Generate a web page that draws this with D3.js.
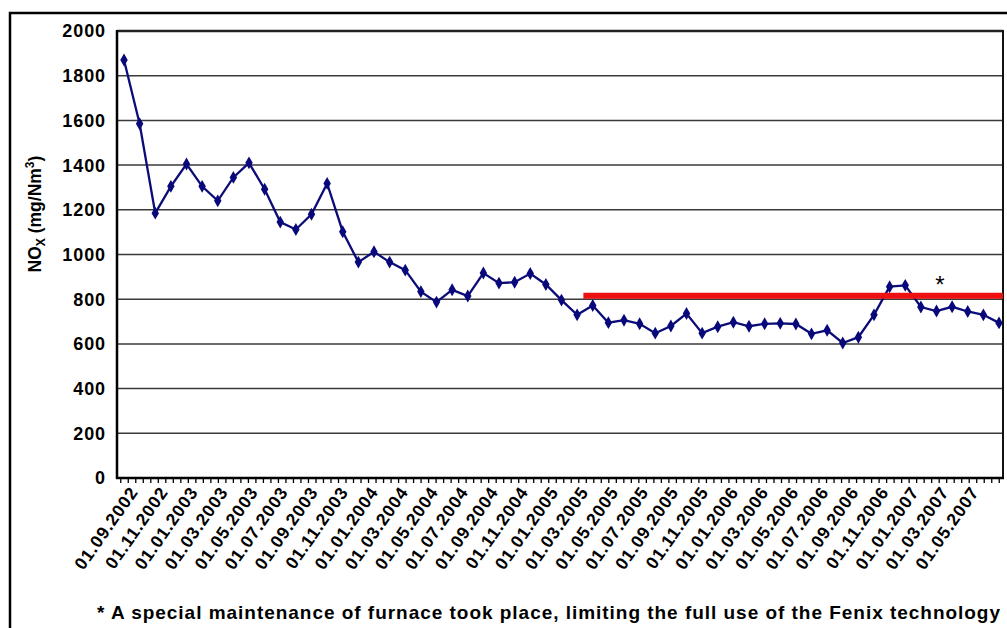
<!DOCTYPE html>
<html>
<head>
<meta charset="utf-8">
<script src="https://cdn.jsdelivr.net/npm/d3@7"></script>
<style>
    body { margin: 0; background: #fff; }
    svg { display: block; font-family: 'Liberation Sans', Arial, sans-serif; }
</style>
</head>
<body>
<svg id="chart" width="1007" height="628"></svg>
<script>
// monthly NOx means, 01.09.2002 .. 01.05.2007
var noxValues = [
    1870, 1585, 1185, 1305, 1405, 1305, 1240, 1345, 1410, 1292,
    1145, 1112, 1180, 1318, 1102, 966, 1012, 966, 930, 834,
    787, 842, 814, 917, 872, 876, 915, 866, 796, 730,
    772, 695, 706, 690, 648, 680, 736, 648, 677, 697,
    679, 690, 692, 689, 645, 661, 604, 630, 730, 856,
    862, 765, 747, 766, 745, 730, 694
];

var tickLabels = [
    '01.09.2002', '01.11.2002', '01.01.2003', '01.03.2003', '01.05.2003', '01.07.2003',
    '01.09.2003', '01.11.2003', '01.01.2004', '01.03.2004', '01.05.2004', '01.07.2004',
    '01.09.2004', '01.11.2004', '01.01.2005', '01.03.2005', '01.05.2005', '01.07.2005',
    '01.09.2005', '01.11.2005', '01.01.2006', '01.03.2006', '01.05.2006', '01.07.2006',
    '01.09.2006', '01.11.2006', '01.01.2007', '01.03.2007', '01.05.2007'
];

var yTicks = [0, 200, 400, 600, 800, 1000, 1200, 1400, 1600, 1800, 2000];

// limit line (red) : value and start, in month index
var limitValue = 815;
var limitStart = 29.4;

var footnote = '* A special maintenance of furnace took place, limiting the full use of the Fenix technology';

var pLeft = 117, pRight = 1003, pTop = 31, pBottom = 478;
var nTicks = 118;

var svg = d3.select('#chart');

svg.append('rect').attr('width', 1007).attr('height', 628).attr('fill', '#fff');

// outer frame
svg.append('path')
    .attr('d', 'M10,628V13H1007')
    .attr('fill', 'none').attr('stroke', '#000').attr('stroke-width', 2.5);

var y = d3.scaleLinear().domain([0, 2000]).range([pBottom, pTop]);
var x = d3.scaleLinear().domain([0, noxValues.length - 1]).range([124, 999]);
var xTick = d3.scaleLinear().domain([-0.5, nTicks - 0.5]).range([pLeft, pRight]);

// grid
svg.append('g').selectAll('line').data(yTicks).enter().append('line')
    .attr('x1', pLeft).attr('x2', pRight)
    .attr('y1', function(d) { return y(d); }).attr('y2', function(d) { return y(d); })
    .attr('stroke', function(d) { return d === 2000 ? '#222' : '#3a3a3a'; })
    .attr('stroke-width', function(d) { return d === 2000 ? 2.4 : 1.5; });

// y labels
svg.append('g').selectAll('text').data(yTicks).enter().append('text')
    .attr('x', 106).attr('y', function(d) { return y(d); }).attr('dy', '0.36em')
    .attr('text-anchor', 'end')
    .style('font-size', '18px').style('font-weight', 'bold').style('letter-spacing', '0.9px')
    .attr('fill', '#000')
    .text(function(d) { return d; });

// axes lines
svg.append('line').attr('x1', pLeft).attr('x2', pLeft).attr('y1', pTop - 1).attr('y2', pBottom + 1)
    .attr('stroke', '#000').attr('stroke-width', 2.5);
svg.append('line').attr('x1', pRight).attr('x2', pRight).attr('y1', pTop - 1).attr('y2', pBottom + 1)
    .attr('stroke', '#111').attr('stroke-width', 2);
svg.append('line').attr('x1', pLeft - 1).attr('x2', pRight + 1).attr('y1', pBottom).attr('y2', pBottom)
    .attr('stroke', '#000').attr('stroke-width', 2.5);

// x ticks
svg.append('g').selectAll('line').data(d3.range(nTicks)).enter().append('line')
    .attr('x1', function(d) { return xTick(d); }).attr('x2', function(d) { return xTick(d); })
    .attr('y1', pBottom).attr('y2', pBottom + 5)
    .attr('stroke', '#000').attr('stroke-width', 1.3);

// x labels, every 4th tick
svg.append('g').selectAll('text').data(tickLabels).enter().append('text')
    .attr('transform', function(d, i) {
        return 'translate(' + (xTick(i * 4) + 18) + ',' + 492 + ') rotate(-55)';
    })
    .attr('text-anchor', 'end')
    .style('font-size', '17.5px').style('font-weight', 'bold').style('letter-spacing', '0.9px')
    .attr('fill', '#000')
    .text(function(d) { return d; });

// series line
var line = d3.line()
    .x(function(d, i) { return x(i); })
    .y(function(d) { return y(d); });

svg.append('path').datum(noxValues)
    .attr('d', line)
    .attr('fill', 'none').attr('stroke', '#0c0c78').attr('stroke-width', 2.3);

svg.append('g').selectAll('path').data(noxValues).enter().append('path')
    .attr('d', d3.symbol().type(d3.symbolDiamond).size(48))
    .attr('transform', function(d, i) { return 'translate(' + x(i) + ',' + y(d) + ')'; })
    .attr('fill', '#08087a');

// limit line
svg.append('line')
    .attr('x1', x(limitStart)).attr('x2', pRight)
    .attr('y1', y(limitValue)).attr('y2', y(limitValue))
    .attr('stroke', '#ee1111').attr('stroke-width', 6);

// asterisk
svg.append('text').attr('x', 940).attr('y', 293).attr('text-anchor', 'middle')
    .style('font-size', '24px').attr('fill', '#000').text('*');

// y axis title
var yTitle = svg.append('text')
    .attr('transform', 'translate(41,214) rotate(-90)')
    .attr('text-anchor', 'middle')
    .style('font-size', '17.5px').style('font-weight', 'bold').attr('fill', '#000');
yTitle.append('tspan').text('NO');
yTitle.append('tspan').attr('dy', 4).style('font-size', '12px').text('X');
yTitle.append('tspan').attr('dy', -4).text(' (mg/Nm');
yTitle.append('tspan').attr('dy', -7).style('font-size', '12px').text('3');
yTitle.append('tspan').attr('dy', 7).text(')');

// footnote
svg.append('text').attr('x', 97).attr('y', 619)
    .attr('textLength', 903).attr('lengthAdjust', 'spacing')
    .style('font-size', '19px').style('font-weight', 'bold').attr('fill', '#000')
    .text(footnote);
</script>
</body>
</html>
